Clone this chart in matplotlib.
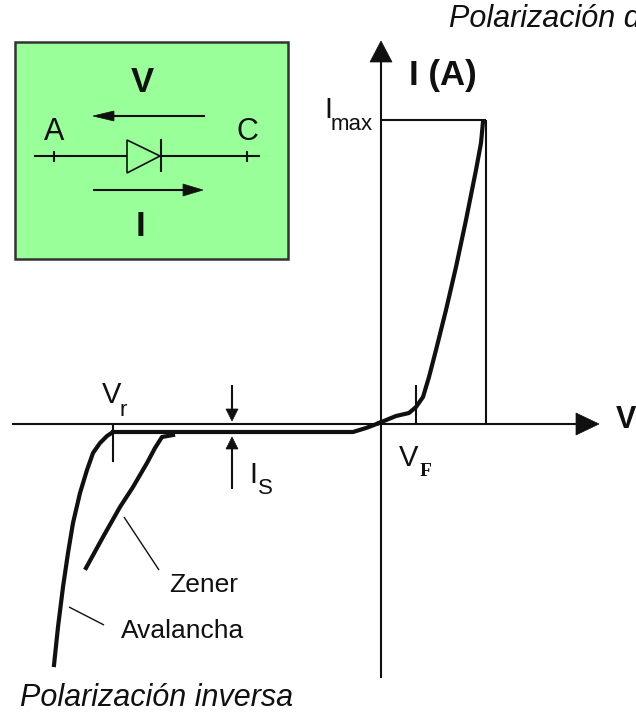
#!/usr/bin/env python3
import matplotlib
matplotlib.use('Agg')
import matplotlib.pyplot as plt
from matplotlib.patches import Rectangle, Polygon

plt.rcParams['font.family'] = ['Liberation Sans', 'DejaVu Sans']

# curve values (arbitrary units, origin at the axes crossing)
forward_v = [-2, 15, 28, 35, 42, 48, 55, 65, 75, 85, 95, 100, 102]
forward_i = [1, 8, 11, 17, 27, 47, 74, 114, 157, 204, 254, 281, 302]
leakage_v = [-268, -215, -100, -28, -15, -7, -2]
leakage_i = [-8, -8, -8, -8, -4, -1, 1]
avalanche_v = [-268, -274, -281, -288, -294, -301, -308, -313, -318, -323, -327]
avalanche_i = [-8, -12, -19, -29, -46, -69, -99, -129, -163, -203, -241]
zener_v = [-208, -219, -226, -234, -248, -261, -278, -295]
zener_i = [-11, -13, -24, -39, -63, -83, -113, -144]

OX, OY = 381, 424
BLACK = '#101010'


def p(x, y):
    # image pixel position to axis units
    return x - OX, OY - y


def seg(ax, x0, y0, x1, y1, lw=1.5, color=BLACK):
    a, b = p(x0, y0), p(x1, y1)
    ax.plot([a[0], b[0]], [a[1], b[1]], color=color, lw=lw, solid_capstyle='butt')


def head(ax, tip, base, half, color=BLACK):
    # filled triangular arrow head, given in image pixels
    tx, ty = tip
    bx, by = base
    if tx == bx:
        pts = [(tx, ty), (bx - half, by), (bx + half, by)]
    else:
        pts = [(tx, ty), (bx, by - half), (bx, by + half)]
    ax.add_patch(Polygon([p(*q) for q in pts], closed=True, fc=color, ec=color, lw=0.5, zorder=4))


def label(ax, x, y, s, size, **kw):
    a = p(x, y)
    kw.setdefault('ha', 'center')
    kw.setdefault('va', 'center')
    ax.text(a[0], a[1], s, fontsize=size, color=BLACK, **kw)


fig = plt.figure(figsize=(6.36, 7.13), dpi=100)
ax = fig.add_axes([0, 0, 1, 1])
ax.set_xlim(-OX, 636 - OX)
ax.set_ylim(OY - 713, OY)
ax.axis('off')

# inset box
x0, y0 = p(15, 259)
ax.add_patch(Rectangle((x0, y0), 273, 217, fc='#99ff99', ec='#333333', lw=1.8, zorder=1))
label(ax, 142, 83, 'V', 25, fontweight='bold')
label(ax, 141, 226, 'I', 25, fontweight='bold')
label(ax, 54, 132, 'A', 22)
label(ax, 247, 132, 'C', 22)
seg(ax, 105, 116, 205, 116)
head(ax, (93, 116), (114, 116), 5)
seg(ax, 93, 190, 190, 190)
head(ax, (203, 190), (183, 190), 6)
seg(ax, 34, 156, 127, 156)
seg(ax, 161, 156, 260, 156)
seg(ax, 54, 151, 54, 162)
seg(ax, 247, 151, 247, 162)
seg(ax, 161, 139, 161, 172)
ax.add_patch(Polygon([p(127, 140), p(127, 173), p(160, 156)], closed=True, fc='none',
                     ec=BLACK, lw=1.2, zorder=3))

# axes of the characteristic
seg(ax, 12, 424, 580, 424)
head(ax, (599, 424), (576, 424), 11)
seg(ax, 381, 60, 381, 678)
head(ax, (381, 41), (381, 62), 11)
seg(ax, 381, 120, 486, 120)
seg(ax, 486, 120, 486, 424)
seg(ax, 113, 424, 113, 462)
seg(ax, 416, 385, 416, 424)

# curves
ax.plot(forward_v, forward_i, color=BLACK, lw=3, zorder=3)
ax.plot(leakage_v, leakage_i, color=BLACK, lw=3, zorder=3)
ax.plot(avalanche_v, avalanche_i, color=BLACK, lw=3, zorder=3)
ax.plot(zener_v, zener_i, color=BLACK, lw=3, zorder=3)

# I_s arrows and leaders
seg(ax, 232, 385, 232, 410)
head(ax, (232, 421), (232, 409), 6)
seg(ax, 232, 448, 232, 489)
head(ax, (232, 437), (232, 449), 6)
seg(ax, 124, 517, 159, 570, lw=1)
seg(ax, 69, 607, 104, 625, lw=1)

# texts
label(ax, 112, 395, 'V', 21)
label(ax, 123, 410, 'r', 16)
label(ax, 253, 475, 'I', 21)
label(ax, 265, 488, 'S', 16)
label(ax, 204, 585, 'Zener', 19)
label(ax, 183, 631, 'Avalancha', 19)
label(ax, 328, 110, 'I', 21)
label(ax, 352, 125, 'max', 16)
label(ax, 443, 76, 'I (A)', 25, fontweight='bold')
label(ax, 409, 458, 'V', 21)
label(ax, 426, 472, 'F', 14, fontweight='bold', family=['Liberation Serif'])
label(ax, 616, 420, 'V', 22, ha='left', fontweight='bold')
label(ax, 449, 19, 'Polarización d', 22, ha='left', style='italic')
label(ax, 20, 698, 'Polarización inversa', 22, ha='left', style='italic')

fig.savefig('out.png', dpi=100)
